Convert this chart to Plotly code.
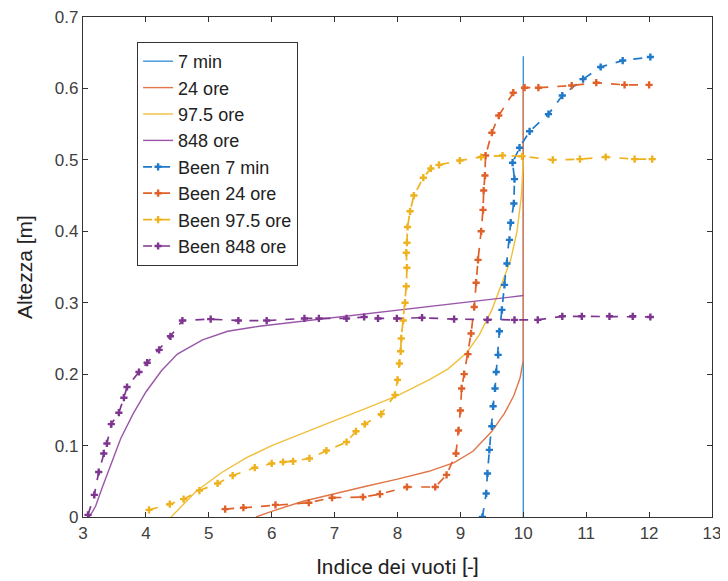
import plotly.graph_objects as go

# ---- data ----
x_7min = [10.0, 10.0]
y_7min = [0.0, 0.645]

x_24 = [5.75, 6.0, 6.5, 7.0, 7.5, 8.0, 8.5, 8.9, 9.2, 9.5, 9.7, 9.85, 9.95, 10.0, 10.0]
y_24 = [0.0, 0.008, 0.022, 0.033, 0.043, 0.053, 0.064, 0.076, 0.092, 0.12, 0.145, 0.17, 0.195, 0.22, 0.605]

x_975 = [4.4, 4.8, 5.2, 5.6, 6.0, 6.5, 7.0, 7.5, 8.0, 8.5, 8.8, 9.1, 9.3, 9.5, 9.65, 9.8, 9.9, 9.97, 10.0]
y_975 = [0.0, 0.036, 0.062, 0.083, 0.1, 0.118, 0.135, 0.152, 0.17, 0.192, 0.207, 0.23, 0.255, 0.29, 0.325, 0.36, 0.4, 0.45, 0.5]

x_848 = [3.1, 3.2, 3.3, 3.45, 3.6, 3.8, 4.0, 4.25, 4.5, 4.9, 5.3, 5.8, 6.5, 7.0, 8.0, 9.0, 10.0]
y_848 = [0.0, 0.015, 0.04, 0.075, 0.11, 0.145, 0.175, 0.205, 0.228, 0.248, 0.26, 0.267, 0.274, 0.279, 0.289, 0.299, 0.31]

xb_7min = [9.35, 9.41, 9.43, 9.46, 9.5, 9.52, 9.55, 9.57, 9.6, 9.62, 9.66, 9.7, 9.74, 9.78, 9.8, 9.85,
           9.86, 9.83, 9.94, 10.1, 10.4, 10.62, 10.95, 11.23, 11.58, 12.02]
yb_7min = [0.0, 0.033, 0.061, 0.094, 0.127, 0.155, 0.18, 0.203, 0.227, 0.26, 0.29, 0.325, 0.355, 0.388, 0.412, 0.439,
           0.473, 0.496, 0.517, 0.54, 0.564, 0.59, 0.613, 0.63, 0.639, 0.644]

xb_24 = [5.26, 5.55, 6.06, 6.59, 6.96, 7.45, 7.72, 8.15, 8.6, 8.78, 8.93, 8.97, 9.0, 9.02, 9.06, 9.12, 9.17,
         9.22, 9.25, 9.28, 9.33, 9.36, 9.37, 9.39, 9.40, 9.50, 9.61, 9.84, 10.02, 10.24, 10.77, 11.16, 11.61, 12.0]
yb_24 = [0.011, 0.013, 0.017, 0.020, 0.027, 0.028, 0.032, 0.042, 0.042, 0.059, 0.089, 0.121, 0.149, 0.18, 0.2,
         0.228, 0.257, 0.294, 0.328, 0.36, 0.4, 0.43, 0.457, 0.478, 0.506, 0.538, 0.562, 0.594, 0.601, 0.601,
         0.604, 0.608, 0.605, 0.605]

xb_975 = [4.05, 4.38, 4.6, 4.85, 5.14, 5.38, 5.73, 6.0, 6.18, 6.34, 6.6, 6.87, 7.19, 7.34, 7.48, 7.74, 7.96,
          8.0, 8.03, 8.05, 8.06, 8.09, 8.12, 8.14, 8.15, 8.14, 8.15, 8.16, 8.2, 8.26, 8.41, 8.53, 8.66, 8.99,
          9.33, 9.67, 9.98, 10.47, 10.9, 11.31, 11.77, 12.05]
yb_975 = [0.01, 0.018, 0.025, 0.037, 0.047, 0.058, 0.069, 0.075, 0.077, 0.078, 0.082, 0.093, 0.105, 0.12, 0.13,
          0.144, 0.171, 0.192, 0.215, 0.232, 0.25, 0.275, 0.3, 0.323, 0.349, 0.37, 0.384, 0.406, 0.428, 0.45,
          0.475, 0.488, 0.493, 0.499, 0.504, 0.506, 0.505, 0.5, 0.501, 0.504, 0.501, 0.501]

xb_848 = [3.08, 3.18, 3.25, 3.33, 3.38, 3.45, 3.57, 3.65, 3.70, 3.89, 4.02, 4.21, 4.39, 4.58, 5.03, 5.47,
          5.92, 6.52, 6.75, 7.19, 7.47, 7.69, 7.99, 8.39, 8.9, 9.43, 9.86, 10.23, 10.62, 10.93, 11.37, 11.74, 12.02]
yb_848 = [0.003, 0.031, 0.063, 0.089, 0.103, 0.13, 0.146, 0.167, 0.182, 0.203, 0.216, 0.234, 0.253, 0.275,
          0.277, 0.275, 0.275, 0.278, 0.278, 0.278, 0.280, 0.278, 0.278, 0.279, 0.277, 0.276, 0.276, 0.276,
          0.281, 0.281, 0.281, 0.281, 0.28]

x_ticks = list(range(3, 14))
y_ticks = [0, 0.1, 0.2, 0.3, 0.4, 0.5, 0.6, 0.7]
y_tick_labels = ["0", "0.1", "0.2", "0.3", "0.4", "0.5", "0.6", "0.7"]

solid_series = [
    ("7 min", x_7min, y_7min, "#3d93d6"),
    ("24 ore", x_24, y_24, "#e0764a"),
    ("97.5 ore", x_975, y_975, "#f0bf3c"),
    ("848 ore", x_848, y_848, "#9a55a8"),
]
dashed_series = [
    ("Been 7 min", xb_7min, yb_7min, "#1f78c8"),
    ("Been 24 ore", xb_24, yb_24, "#e0602a"),
    ("Been 97.5 ore", xb_975, yb_975, "#eeb21f"),
    ("Been 848 ore", xb_848, yb_848, "#7e3590"),
]

fig = go.Figure()
for name, xs, ys, col in solid_series:
    fig.add_trace(go.Scatter(x=xs, y=ys, mode="lines", name=name,
                             line=dict(color=col, width=1.4)))
for name, xs, ys, col in dashed_series:
    fig.add_trace(go.Scatter(x=xs, y=ys, mode="lines+markers", name=name,
                             line=dict(color=col, width=1.7, dash="dash"),
                             marker=dict(symbol="cross", size=6, color=col)))

axis_font = dict(family="Liberation Sans, Arial, sans-serif", size=17, color="#404040")
# the page body adds an 8px offset; margins compensate so the plot area matches the reference
fig.update_layout(
    width=728, height=581,
    margin=dict(l=75, r=24, t=9, b=72),
    paper_bgcolor="white", plot_bgcolor="white",
    showlegend=True,
    legend=dict(x=0.086, y=0.95, xanchor="left", yanchor="top",
                bgcolor="white", bordercolor="#333333", borderwidth=1,
                font=dict(family="Liberation Sans, Arial, sans-serif", size=18, color="#222222"),
                tracegroupgap=0, itemwidth=30),
    xaxis=dict(range=[3, 13], tickvals=x_ticks, ticks="inside", ticklen=5, tickcolor="#333333",
               showline=True, linecolor="#333333", linewidth=1.2, mirror="ticks", showgrid=False,
               zeroline=False, tickfont=axis_font, automargin=False, ticklabeloverflow="allow",
               title=dict(text="Indice dei vuoti [-]",
                          font=dict(family="Roboto, Liberation Sans, sans-serif", size=21, color="#222222"),
                          standoff=17)),
    yaxis=dict(range=[0, 0.7], tickvals=y_ticks, ticktext=y_tick_labels, ticks="inside", ticklen=5,
               tickcolor="#333333", showline=True, linecolor="#333333", linewidth=1.2, mirror="ticks",
               showgrid=False, zeroline=False, tickfont=axis_font, automargin=False,
               ticklabeloverflow="allow",
               title=dict(text="Altezza [m]",
                          font=dict(family="Liberation Sans, Arial, sans-serif", size=21, color="#222222"),
                          standoff=16)),
)

fig.write_html("out.html")
